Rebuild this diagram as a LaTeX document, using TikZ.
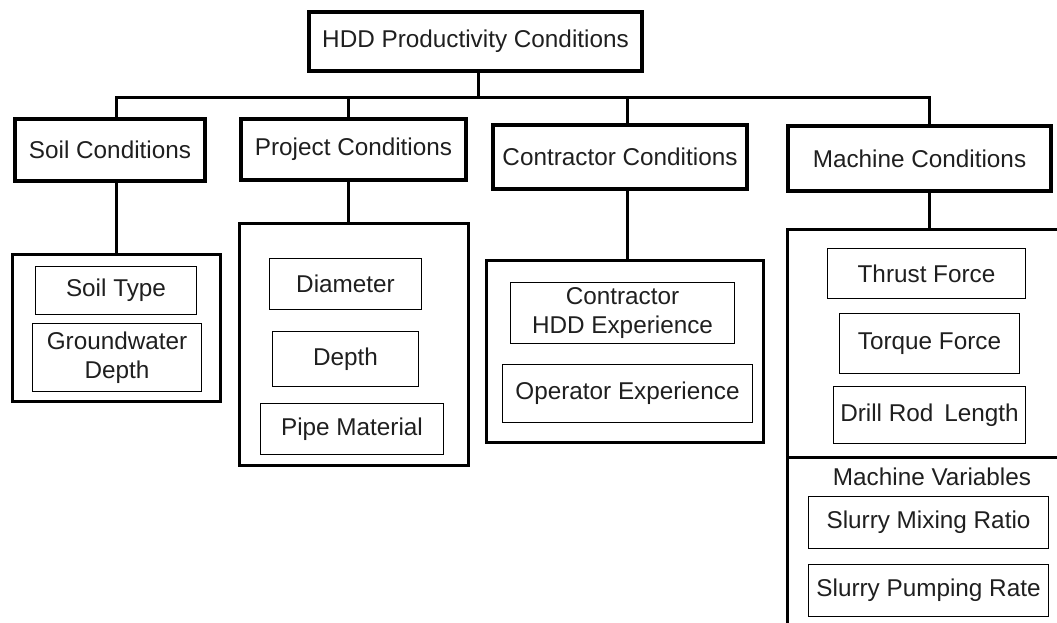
\documentclass[tikz,border=0pt]{standalone}
\usepackage{fontspec}
\setmainfont{Liberation Sans}
\begin{document}
\begin{tikzpicture}[x=1pt,y=-1pt,
  every node/.style={font=\fontsize{24.3}{28.5}\selectfont, text=black!88, inner sep=0pt, align=center},
  mainbox/.style={draw, line width=4pt, minimum width=#1},
  groupbox/.style={draw, line width=3pt},
  itembox/.style={draw, line width=1.5pt},
  conn/.style={line width=3pt},
  sz/.style 2 args={minimum width=#1, minimum height=#2}
]
\useasboundingbox (0,0) rectangle (1057,623);
\clip (0,0) rectangle (1057,623);

% top
\node[mainbox=333pt, minimum height=59pt] (top) at (475.5,41.5) {HDD Productivity Conditions};

% second level
\node[mainbox=189.5pt, minimum height=62pt] (soil) at (110,150) {Soil Conditions};
\node[mainbox=225pt, minimum height=61pt] (proj) at (353.5,149.5) {Project Conditions};
\node[mainbox=254pt, minimum height=64pt] (cont) at (620,157) {Contractor Conditions};
\node[mainbox=263pt, minimum height=65pt] (mach) at (919.5,158.5) {Machine Conditions};

% group boxes
\node[groupbox, sz={208pt}{147pt}] (soilg) at (116.5,328) {};
\node[groupbox, sz={229pt}{242pt}] (projg) at (354,344.5) {};
\node[groupbox, sz={277pt}{182pt}] (contg) at (625,351.5) {};
\node[groupbox, sz={289.5pt}{410.5pt}] (machg) at (932.25,434.75) {};
\coordinate (divl) at (787.5,457);
\draw[line width=3pt] (divl) -- (divl -| machg.east);

% items
\node[itembox, sz={161pt}{48pt}] (stype) at (116,290.5) {Soil Type};
\node[itembox, sz={169pt}{68pt}] (gwd) at (117,357.5) {Groundwater\\Depth};
\node[itembox, sz={152pt}{51pt}] (diam) at (345.5,284) {Diameter};
\node[itembox, sz={146pt}{55pt}] (depth) at (345.5,359) {Depth};
\node[itembox, sz={183pt}{51pt}] (pipe) at (352,429) {Pipe Material};
\node[itembox, sz={224pt}{61pt}] (chdd) at (622.5,313) {Contractor\\HDD Experience};
\node[itembox, sz={250pt}{58pt}] (oper) at (627.5,393.5) {Operator Experience};
\node[itembox, sz={198pt}{50pt}] (thrust) at (926.5,273.5) {Thrust Force};
\node[itembox, sz={180pt}{60pt}] (torque) at (929.5,343.5) {Torque Force};
\node[itembox, sz={192pt}{57pt}] (drill) at (929.5,415) {Drill Rod\hspace{0.45em}Length};
\node (mvar) at (932,477) {Machine Variables};
\node[itembox, sz={240pt}{52pt}] (smix) at (928.5,522.5) {Slurry Mixing Ratio};
\node[itembox, sz={240pt}{52pt}] (spump) at (928.5,590.5) {Slurry Pumping Rate};

% connectors
\coordinate (bus) at (0,98);
\coordinate (sx) at (116,0);
\coordinate (px) at (348,0);
\coordinate (cx) at (627,0);
\coordinate (mx) at (929,0);
\coordinate (tx) at (478,0);
\draw[conn] (top.south -| tx) -- (bus -| tx);
\draw[conn] (soil.north -| sx) -- (bus -| sx) -- (bus -| mx) -- (mach.north -| mx);
\draw[conn] (proj.north -| px) -- (bus -| px);
\draw[conn] (cont.north -| cx) -- (bus -| cx);
\draw[conn] (soil.south -| sx) -- (soilg.north -| sx);
\draw[conn] (proj.south -| px) -- (projg.north -| px);
\draw[conn] (cont.south -| cx) -- (contg.north -| cx);
\draw[conn] (mach.south -| mx) -- (machg.north -| mx);
\end{tikzpicture}
\end{document}
